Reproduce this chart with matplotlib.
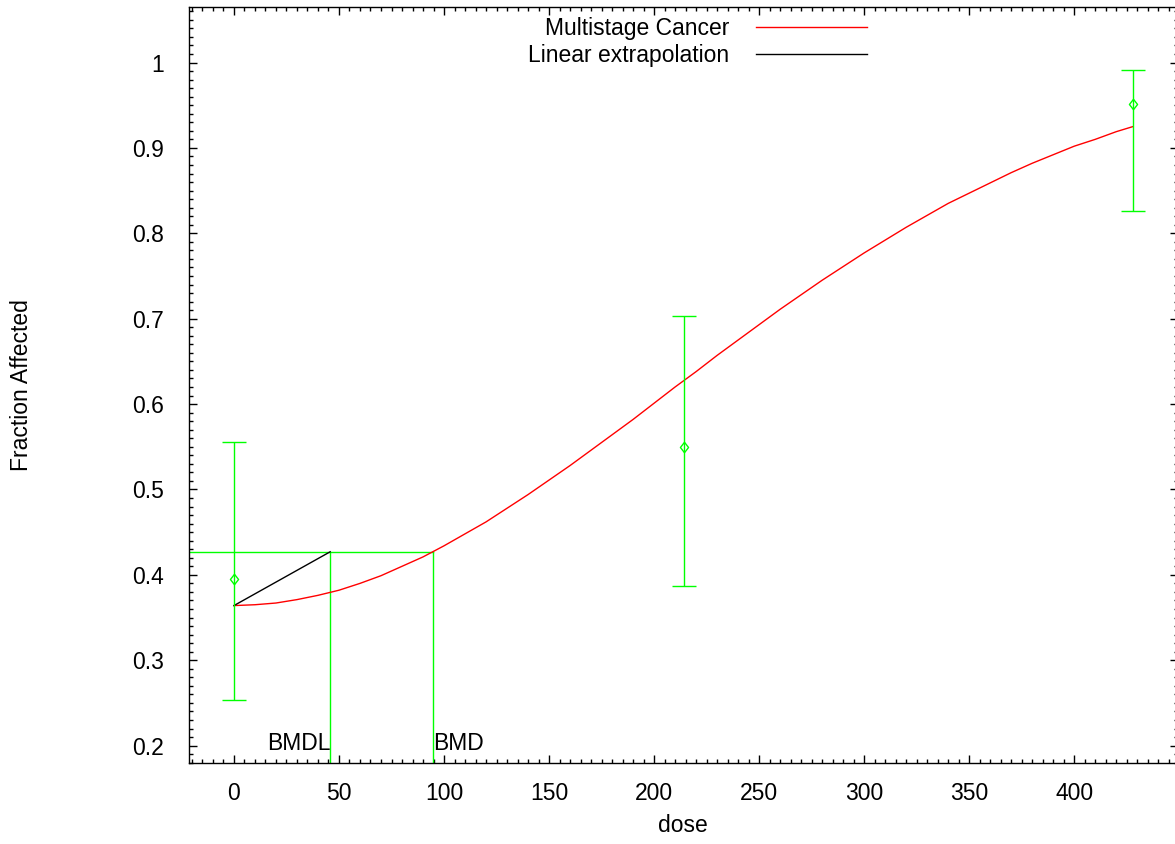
import matplotlib
matplotlib.use("Agg")
import matplotlib.pyplot as plt
from matplotlib.ticker import MultipleLocator

plt.rcParams['font.family'] = ['Liberation Sans', 'DejaVu Sans']

# ---- data ----
dose = [0, 214, 428]
frac = [0.395, 0.550, 0.951]
err_lo = [0.254, 0.387, 0.826]
err_hi = [0.555, 0.703, 0.991]

curve_dose = [0, 10, 20, 30, 40, 50, 60, 70, 80, 90, 100, 110, 120, 130, 140,
              150, 160, 170, 180, 190, 200, 210, 220, 230, 240, 250, 260, 270,
              280, 290, 300, 310, 320, 330, 340, 350, 360, 370, 380, 390, 400,
              410, 420, 428]
curve_frac = [0.364, 0.365, 0.367, 0.371, 0.376, 0.382, 0.390, 0.399, 0.410,
              0.421, 0.434, 0.448, 0.462, 0.478, 0.494, 0.511, 0.528, 0.546,
              0.564, 0.582, 0.601, 0.620, 0.638, 0.657, 0.675, 0.693, 0.711,
              0.728, 0.745, 0.761, 0.777, 0.792, 0.807, 0.821, 0.835, 0.847,
              0.859, 0.871, 0.882, 0.892, 0.902, 0.910, 0.919, 0.925]

bmdl = 45.8
bmd = 94.8
bmr_level = 0.427
background = 0.364

x_ticks = [0, 50, 100, 150, 200, 250, 300, 350, 400]
y_ticks = [0.2, 0.3, 0.4, 0.5, 0.6, 0.7, 0.8, 0.9, 1.0]
y_tick_labels = ['0.2', '0.3', '0.4', '0.5', '0.6', '0.7', '0.8', '0.9', '1']

W, H = 1175, 844
FS = 16.5
fig = plt.figure(figsize=(W / 100, H / 100), dpi=100)
ax = fig.add_axes([189 / W, (H - 762.7) / H, (1178 - 189) / W, (762.7 - 7) / H])

xmin, xmax = -21.4, 449.4
ymin, ymax = 0.180, 1.065
ax.set_xlim(xmin, xmax)
ax.set_ylim(ymin, ymax)

green = '#00ff00'

# model curve
ax.plot(curve_dose, curve_frac, color='#ff0000', lw=1.0, label='Multistage Cancer', zorder=3)
# linear extrapolation
ax.plot([0, bmdl], [background, bmr_level], color='black', lw=1.0,
        label='Linear extrapolation', zorder=3)

# BMR / BMD / BMDL lines
ax.plot([xmin, bmd], [bmr_level, bmr_level], color=green, lw=1.0, zorder=2)
ax.plot([bmdl, bmdl], [ymin, bmr_level], color=green, lw=1.0, zorder=2)
ax.plot([bmd, bmd], [ymin, bmr_level], color=green, lw=1.0, zorder=2)

# data with error bars
diamond = [(0, 1), (0.78, 0), (0, -1), (-0.78, 0), (0, 1)]
yerr = [[f - lo for f, lo in zip(frac, err_lo)], [hi - f for f, hi in zip(frac, err_hi)]]
ax.errorbar(dose, frac, yerr=yerr, fmt='none', ecolor=green,
            elinewidth=1.0, capsize=8.5, capthick=1.0, zorder=4)
ax.plot(dose, frac, linestyle='none', marker=diamond, mfc='none', mec=green,
        ms=7.5, mew=1.0, zorder=5)

ax.text(bmdl, 0.195, 'BMDL', ha='right', va='baseline', fontsize=FS)
ax.text(bmd, 0.195, 'BMD', ha='left', va='baseline', fontsize=FS)

# ticks
ax.set_xticks(x_ticks)
ax.set_yticks(y_ticks)
ax.set_yticklabels(y_tick_labels)
ax.xaxis.set_minor_locator(MultipleLocator(5))
ax.yaxis.set_minor_locator(MultipleLocator(0.01))
ax.tick_params(which='both', direction='in', top=True, right=True, width=1.0)
ax.tick_params(which='major', length=6)
ax.tick_params(which='minor', length=3)
ax.tick_params(axis='x', which='major', pad=14, labelsize=FS)
ax.tick_params(axis='y', which='major', pad=18, labelsize=FS)
for s in ax.spines.values():
    s.set_linewidth(1.0)

ax.set_xlabel('dose', fontsize=FS, va='center')
ax.xaxis.set_label_coords((683 - 189) / 989, -(826 - 762.7) / 755.7)
ax.set_ylabel('Fraction Affected', fontsize=FS, va='center')
ax.yaxis.set_label_coords((22 - 189) / 989, 0.5)

ax.legend(loc='upper right', bbox_to_anchor=(867 / W, (H - 17.5) / H),
          bbox_transform=fig.transFigure, frameon=False, markerfirst=False,
          fontsize=FS, handlelength=4.85, handletextpad=1.15, labelspacing=0.16,
          borderpad=0, borderaxespad=0)

fig.savefig('out.png', dpi=100)
